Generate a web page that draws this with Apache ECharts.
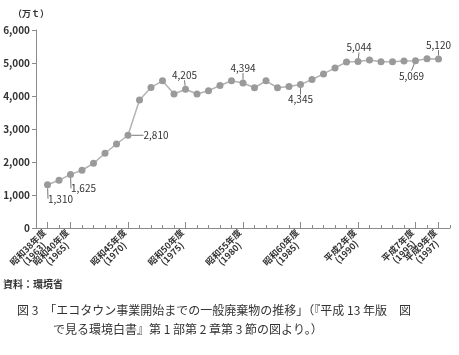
<!DOCTYPE html>
<html>
<head>
<meta charset="utf-8">
<script src="https://cdn.jsdelivr.net/npm/echarts@6/dist/echarts.min.js"></script>
<style>
  html, body { margin: 0; padding: 0; background: #fff; }
  #main { width: 459px; height: 355px; }
</style>
</head>
<body>
<div id="main"></div>
<script>
// 年度
const years = [1963, 1964, 1965, 1966, 1967, 1968, 1969, 1970, 1971, 1972,
  1973, 1974, 1975, 1976, 1977, 1978, 1979, 1980, 1981, 1982,
  1983, 1984, 1985, 1986, 1987, 1988, 1989, 1990, 1991, 1992,
  1993, 1994, 1995, 1996, 1997]
// 一般廃棄物 (万t)
const amounts = [1310, 1445, 1625, 1750, 1960, 2265, 2545, 2810, 3880, 4260,
  4460, 4060, 4205, 4060, 4160, 4320, 4460, 4394, 4250, 4460,
  4250, 4290, 4345, 4500, 4670, 4850, 5030, 5044, 5090, 5040,
  5040, 5060, 5069, 5130, 5120]
// 数値を表示する年度
const labelYears = [1963, 1965, 1970, 1975, 1980, 1985, 1990, 1995, 1997]
// ラベルのずらし量 (labelYears と同じ順)
const labelShift = [[13, 14], [13, 14], [28, 0], [-1, -14], [0, -15], [0, 15], [1, -14], [-4, 15], [0, -14]]
// x軸ラベル
const tickYears = [1963, 1965, 1970, 1975, 1980, 1985, 1990, 1995, 1997]
const tickNames = ['昭和38年度', '昭和40年度', '昭和45年度', '昭和50年度', '昭和55年度',
  '昭和60年度', '平成2年度', '平成7年度', '平成9年度']
const yTicks = [0, 1000, 2000, 3000, 4000, 5000, 6000]

const font = '"Noto Sans CJK JP", "Noto Sans", sans-serif'

let seriesData = years.map(function (y, i) {
  let item = { value: [y, amounts[i]] }
  if (labelYears.indexOf(y) >= 0) {
    item.label = { show: true }
  }
  return item
})

function fmt (v) {
  return String(v).replace(/\B(?=(\d{3})+(?!\d))/g, ',')
}

// ラベルが重なって消されないよう、2本の軸に振り分ける
function labelAxis (vals) {
  return {
    type: 'value',
    position: 'bottom',
    min: 1962,
    max: 1998,
    splitLine: { show: false },
    axisLine: { show: false },
    axisTick: { show: true, inside: true, length: 6, customValues: vals, lineStyle: { color: '#8a8a8a' } },
    axisLabel: {
      show: true,
      customValues: vals,
      showMinLabel: true,
      showMaxLabel: true,
      rotate: 45,
      margin: 6,
      fontSize: 9,
      fontWeight: 'bold',
      fontFamily: font,
      color: '#333',
      lineHeight: 9,
      formatter: function (v) {
        let i = tickYears.indexOf(v)
        return '{c|' + tickNames[i] + '}\n{c|(' + v + ')}'
      },
      rich: {
        c: { align: 'center', fontSize: 9, fontWeight: 'bold', fontFamily: font, color: '#333', lineHeight: 9 }
      }
    }
  }
}

let myChart = echarts.init(document.getElementById('main'))

let option = {
  backgroundColor: '#fff',
  animation: false,
  grid: { left: 36, right: 9, top: 30, bottom: 127, containLabel: false },
  xAxis: [
    {
      type: 'value',
      min: 1962,
      max: 1998,
      interval: 1,
      splitLine: { show: false },
      axisLine: { lineStyle: { color: '#8a8a8a', width: 1 } },
      axisTick: { inside: true, length: 3, lineStyle: { color: '#8a8a8a' } },
      axisLabel: { show: false }
    },
    labelAxis(tickYears.filter(function (v, i) { return i % 2 === 0 })),
    labelAxis(tickYears.filter(function (v, i) { return i % 2 === 1 }))
  ],
  yAxis: {
    type: 'value',
    min: 0,
    max: 6000,
    interval: 1000,
    splitLine: { show: false },
    axisLine: { show: true, lineStyle: { color: '#8a8a8a', width: 1 } },
    axisTick: { show: true, length: 4, lineStyle: { color: '#8a8a8a' } },
    axisLabel: {
      margin: 6,
      fontSize: 10,
      fontWeight: 'bold',
      fontFamily: font,
      color: '#333',
      customValues: yTicks,
      formatter: function (v) { return fmt(v) }
    }
  },
  series: [
    {
      type: 'line',
      xAxisIndex: 0,
      data: seriesData,
      symbol: 'circle',
      symbolSize: 7,
      lineStyle: { color: '#b3b3b3', width: 1.5 },
      itemStyle: { color: '#9a9a9a' },
      label: {
        show: false,
        position: 'inside',
        fontSize: 10,
        fontFamily: font,
        color: '#333',
        formatter: function (p) { return fmt(p.value[1]) }
      },
      labelLine: { show: true, lineStyle: { color: '#777', width: 1 } },
      labelLayout: function (p) {
        let i = labelYears.indexOf(years[p.dataIndex])
        if (i < 0) return {}
        return { dx: labelShift[i][0], dy: labelShift[i][1] }
      }
    }
  ],
  graphic: [
    {
      type: 'text', left: 13, top: 9,
      style: { text: '（万ｔ）', fontSize: 9, fontWeight: 'bold', fontFamily: font, fill: '#333' }
    },
    {
      type: 'text', left: 3, top: 279,
      style: { text: '資料：環境省', fontSize: 10, fontWeight: 'bold', fontFamily: font, fill: '#333' }
    },
    {
      type: 'text', left: 17, top: 304,
      style: { text: '図 3　「エコタウン事業開始までの一般廃棄物の推移」（『平成 13 年版　図', fontSize: 12, fontFamily: font, fill: '#333' }
    },
    {
      type: 'text', left: 53, top: 323,
      style: { text: 'で見る環境白書』第 1 部第 2 章第 3 節の図より。）', fontSize: 12, fontFamily: font, fill: '#333' }
    }
  ]
}

myChart.setOption(option, true)
</script>
</body>
</html>
